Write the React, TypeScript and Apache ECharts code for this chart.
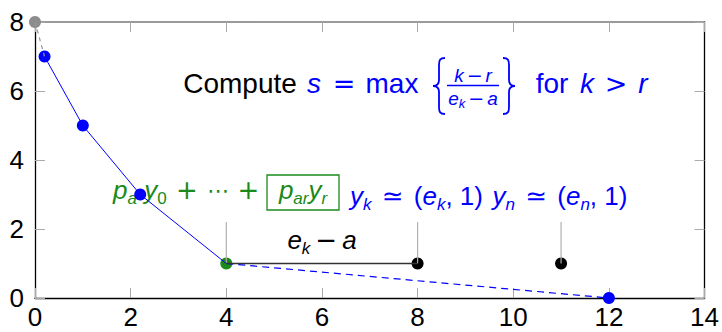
import React, { useEffect, useRef } from "react";
import * as echarts from "echarts";

// Points of the descent walk (x, y)
const startPoint: [number, number] = [0, 8];
const descentPath: [number, number][] = [
  [0.2, 7],
  [1, 5],
  [2.2, 3],
  [4, 1],
];
const pivotPoint: [number, number] = [4, 1];
const candidatePoints: [number, number][] = [
  [8, 1],
  [11, 1],
];
const endPoint: [number, number] = [12, 0];
// Short vertical markers rising from y = 1
const stemXs = [4, 8, 11];
const stemTop = 2.2;

// Axis ranges
const xRange = { min: 0, max: 14, interval: 2 };
const yRange = { min: 0, max: 8, interval: 2 };

const FONT = '"Liberation Sans", Arial, sans-serif';
const OPFONT = '"DejaVu Sans", sans-serif';
const BLUE = "#0000ff";
const GREEN = "#1a8a1a";
const BLACK = "#000000";

const braceLeftD =
  "M12 0 C7 0 6 2 6 7 L6 22 C6 26 4 28 0 28 C4 28 6 30 6 34 L6 49 C6 54 7 56 12 56";
const braceRightD =
  "M0 0 C5 0 6 2 6 7 L6 22 C6 26 8 28 12 28 C8 28 6 30 6 34 L6 49 C6 54 5 56 0 56";
echarts.graphic.registerShape("braceLeft", echarts.graphic.extendPath(braceLeftD, {}));
echarts.graphic.registerShape("braceRight", echarts.graphic.extendPath(braceRightD, {}));

function richStyles(size: number, subSize: number, drop: number, opPad: number) {
  return {
    i: { fontFamily: FONT, fontStyle: "italic", fontSize: size },
    n: { fontFamily: FONT, fontSize: size },
    o: { fontFamily: OPFONT, fontSize: size, padding: [0, opPad, 0, opPad] },
    s: { fontFamily: FONT, fontStyle: "italic", fontSize: subSize, padding: [drop, 0, 0, 0] },
    sn: { fontFamily: FONT, fontSize: subSize, padding: [drop, 0, 0, 0] },
  };
}

function txt(
  x: number,
  y: number,
  text: string,
  fill: string,
  opts: { size?: number; italic?: boolean; family?: string; align?: string; rich?: any } = {}
) {
  return {
    type: "text",
    x,
    y,
    z: 1,
    silent: true,
    style: {
      text,
      fill,
      fontFamily: opts.family || FONT,
      fontSize: opts.size || 27,
      fontStyle: opts.italic ? "italic" : "normal",
      align: opts.align || "center",
      verticalAlign: "middle",
      rich: opts.rich,
    },
  };
}

function axisCommon(color: string, width: number) {
  return {
    type: "value" as const,
    axisLine: { show: true, onZero: false, lineStyle: { color, width } },
    axisTick: { show: true, inside: true, length: 10, lineStyle: { color: "#aaaaaa", width: 1 } },
    splitLine: { show: false },
  };
}

function lineSeries(data: [number, number][], color: string, width: number, type: any = "solid") {
  return {
    type: "line",
    data,
    showSymbol: false,
    symbol: "none",
    clip: false,
    silent: true,
    lineStyle: { color, width, type },
  };
}

function scatterSeries(data: [number, number][], color: string) {
  return {
    type: "scatter",
    data,
    symbol: "circle",
    symbolSize: 12,
    clip: false,
    silent: true,
    itemStyle: { color, opacity: 1 },
  };
}

export default function App() {
  const ref = useRef<HTMLDivElement>(null);

  useEffect(() => {
    if (!ref.current) return;
    const chart = echarts.init(ref.current, undefined, { renderer: "svg" });

    const big = richStyles(26, 17, 16, 3);
    const gap = richStyles(26, 17, 16, 5);
    const frac = richStyles(19, 13, 10, 3);

    const stems = stemXs.map((x) =>
      lineSeries(
        [
          [x, pivotPoint[1]],
          [x, stemTop],
        ],
        "#b0b0b0",
        1.2
      )
    );

    chart.setOption({
      animation: false,
      backgroundColor: "#ffffff",
      grid: { left: 35, right: 17, top: 22, bottom: 34, containLabel: false },
      xAxis: [
        {
          ...axisCommon("#000000", 1.3),
          position: "bottom",
          ...xRange,
          axisLabel: { margin: 6, fontSize: 26, color: BLACK, fontFamily: FONT },
        },
        {
          ...axisCommon("#7a7a7a", 1.5),
          position: "top",
          ...xRange,
          axisLabel: { show: false },
        },
      ],
      yAxis: [
        {
          ...axisCommon("#000000", 1.3),
          position: "left",
          ...yRange,
          axisLabel: { margin: 11, fontSize: 26, color: BLACK, fontFamily: FONT },
        },
        {
          ...axisCommon("#000000", 1.3),
          position: "right",
          ...yRange,
          axisLabel: { show: false },
        },
      ],
      series: [
        ...stems,
        lineSeries([startPoint, descentPath[0]], "#999999", 1.2, [4, 4]),
        lineSeries(descentPath, BLUE, 1),
        lineSeries([pivotPoint, endPoint], BLUE, 1.2, [7, 5]),
        lineSeries([pivotPoint, candidatePoints[0]], "#333333", 1.3),
        scatterSeries([...descentPath.slice(0, 3), endPoint], BLUE),
        scatterSeries([startPoint], "#8c8c8c"),
        scatterSeries([pivotPoint], GREEN),
        scatterSeries(candidatePoints, BLACK),
      ],
      graphic: [
        // Title: Compute s = max { (k-r)/(e_k-a) } for k > r
        txt(240, 83, "Compute", BLACK, { size: 28 }),
        txt(314, 83, "s", BLUE, { italic: true, size: 28 }),
        txt(344, 83, "=", BLUE, { family: OPFONT }),
        txt(392, 83, "max", BLUE, { size: 28 }),
        {
          type: "braceLeft",
          x: 433,
          y: 58,
          z: 1,
          silent: true,
          style: { fill: "none", stroke: BLUE, lineWidth: 1.8 },
        },
        txt(473, 75, "{i|k}{o|−}{i|r}", BLUE, { size: 19, rich: frac }),
        {
          type: "line",
          z: 1,
          silent: true,
          shape: { x1: 447, y1: 85.5, x2: 499, y2: 85.5 },
          style: { stroke: BLUE, lineWidth: 1.3 },
        },
        txt(473, 98, "{i|e}{s|k}{o|−}{i|a}", BLUE, { size: 19, rich: frac }),
        {
          type: "braceRight",
          x: 503,
          y: 58,
          z: 1,
          silent: true,
          style: { fill: "none", stroke: BLUE, lineWidth: 1.8 },
        },
        txt(552, 83, "for", BLUE, { size: 28 }),
        txt(587, 83, "k", BLUE, { italic: true, size: 28 }),
        txt(616, 83, ">", BLUE, { family: OPFONT }),
        txt(643, 83, "r", BLUE, { italic: true, size: 28 }),

        // Green combination p_a y_0 + ... + [p_ar y_r]
        txt(113, 190, "{i|p}{s|a} {i|y}{sn|0}", GREEN, { size: 26, rich: big, align: "left" }),
        txt(187, 190, "+", GREEN, { family: OPFONT, size: 26 }),
        txt(218, 190, "⋯", GREEN, { family: OPFONT, size: 22 }),
        txt(248.5, 190, "+", GREEN, { family: OPFONT, size: 26 }),
        {
          type: "rect",
          z: 1,
          silent: true,
          shape: { x: 267, y: 175, width: 72, height: 35 },
          style: { fill: "none", stroke: GREEN, lineWidth: 1.3 },
        },
        txt(303, 190, "{i|p}{s|ar}{i|y}{s|r}", GREEN, { size: 26, rich: big }),

        // Blue point labels
        txt(416.5, 196, "{i|y}{s|k} {o|≃} {n|(}{i|e}{s|k}{n|, 1)}", BLUE, { size: 26, rich: big }),
        txt(560, 196, "{i|y}{s|n} {o|≃} {n|(}{i|e}{s|n}{n|, 1)}", BLUE, { size: 26, rich: big }),

        // Horizontal gap label
        txt(322, 240, "{i|e}{s|k}{o|−}{i|a}", BLACK, { size: 26, rich: gap }),
      ],
    });

    return () => chart.dispose();
  }, []);

  return (
    <div
      ref={ref}
      style={{ position: "fixed", left: 0, top: 0, width: 722, height: 332, background: "#fff" }}
    />
  );
}
